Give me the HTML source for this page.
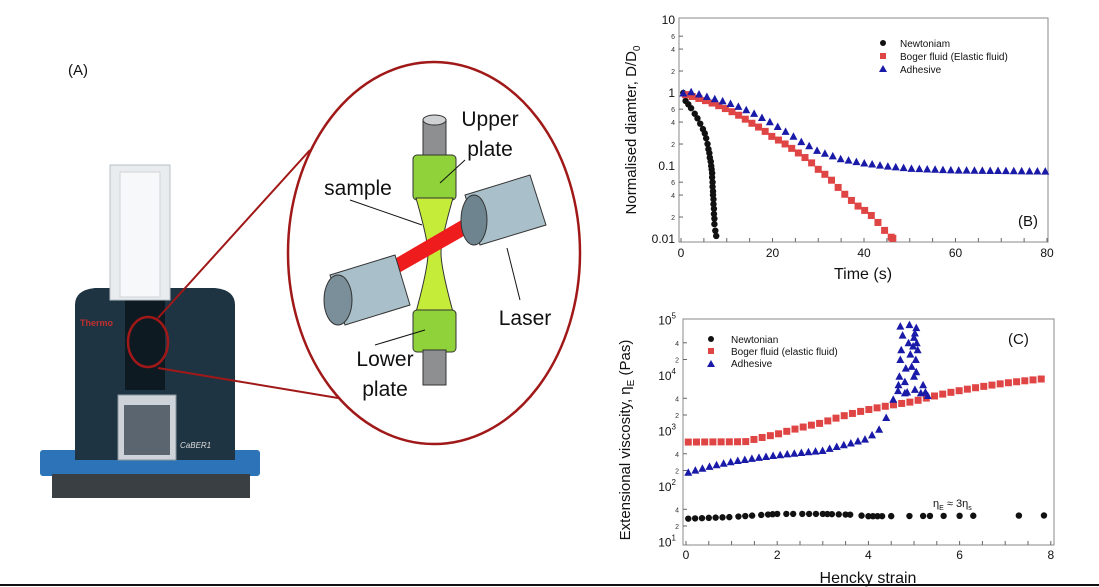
<!DOCTYPE html>
<html><head><meta charset="utf-8"><style>
html,body{margin:0;padding:0;background:#fff;}
svg{display:block;font-family:"Liberation Sans",sans-serif;}
</style></head><body>
<svg id="s" width="1099" height="587" viewBox="0 0 1099 587" xmlns="http://www.w3.org/2000/svg">
<rect width="1099" height="587" fill="#fff"/>
<!-- Panel A -->
<text x="68" y="75" font-size="15" fill="#111">(A)</text>
<!-- machine -->
<rect x="40" y="450" width="220" height="26" rx="3" fill="#2d73b8"/>
<rect x="52" y="474" width="198" height="24" fill="#3a3f44"/>
<path d="M75 460 L75 305 Q75 290 95 288 L215 288 Q235 290 235 305 L235 460 Z" fill="#1f3442"/>
<rect x="125" y="290" width="40" height="100" fill="#0d1a22"/>
<rect x="110" y="165" width="60" height="135" fill="#e8ecef" stroke="#b8c0c6"/>
<rect x="120" y="172" width="40" height="125" fill="#f6f8f9" stroke="#cfd5d9"/>
<rect x="118" y="395" width="58" height="65" fill="#cdd3d8" stroke="#8a949a"/>
<rect x="124" y="405" width="46" height="50" fill="#5a6570"/>
<text x="80" y="326" font-size="9" fill="#c03030" font-weight="bold">Thermo</text>
<text x="180" y="448" font-size="8" fill="#ddd" font-style="italic">CaBER1</text>
<ellipse cx="148" cy="342" rx="20" ry="25" fill="none" stroke="#a01818" stroke-width="2.5"/>
<line x1="158" y1="318" x2="310" y2="150" stroke="#a01818" stroke-width="2"/>
<line x1="158" y1="368" x2="350" y2="400" stroke="#a01818" stroke-width="2"/>
<ellipse cx="434" cy="253" rx="146" ry="191" fill="#fff" stroke="#a01818" stroke-width="2.5"/>
<!-- diagram -->
<rect x="423" y="120" width="23" height="45" fill="#8d8f91" stroke="#333"/>
<ellipse cx="434.5" cy="120" rx="11.5" ry="5" fill="#cfd1d3" stroke="#333"/>
<rect x="413" y="155" width="43" height="45" rx="4" fill="#8fd23a" stroke="#333"/>
<path d="M416 198 Q428 240 428 253 Q428 268 416 312 L453 312 Q441 268 441 253 Q441 240 453 198 Z" fill="#c6ec3a" stroke="#333"/>
<rect x="413" y="310" width="43" height="42" rx="4" fill="#8fd23a" stroke="#333"/>
<rect x="423" y="350" width="23" height="35" fill="#8d8f91" stroke="#333"/>
<path d="M470 215 L350 285 L360 295 L478 228 Z" fill="#ee1c1c"/>
<path d="M465 195 L530 175 L546 225 L480 245 Z" fill="#a9bfc9" stroke="#333"/>
<ellipse cx="474" cy="220" rx="13" ry="25" fill="#6e8590" stroke="#333"/>
<path d="M330 275 L395 255 L410 305 L345 325 Z" fill="#a9bfc9" stroke="#333"/>
<ellipse cx="338" cy="300" rx="14" ry="25" fill="#7a8f99" stroke="#333"/>
<line x1="465" y1="160" x2="440" y2="183" stroke="#111"/>
<line x1="350" y1="200" x2="422" y2="225" stroke="#111"/>
<line x1="520" y1="300" x2="507" y2="248" stroke="#111"/>
<line x1="375" y1="345" x2="425" y2="330" stroke="#111"/>
<g font-size="21" fill="#111" text-anchor="middle">
<text x="490" y="126">Upper</text><text x="490" y="156">plate</text>
<text x="358" y="195">sample</text><text x="525" y="325">Laser</text>
<text x="385" y="366">Lower</text><text x="385" y="396">plate</text>
</g>
<!-- Panel B -->
<rect x="679" y="18" width="369" height="224" fill="none" stroke="#888"/>
<g id="bt"></g>
<text transform="translate(636,130) rotate(-90)" font-size="15" text-anchor="middle" fill="#111">Normalised diamter, D/D<tspan font-size="10" dy="4">0</tspan></text>
<text x="863" y="279" font-size="16" text-anchor="middle" fill="#111">Time (s)</text>
<text x="1018" y="226" font-size="15" fill="#111">(B)</text>
<g font-size="10" fill="#111">
<circle cx="883" cy="43" r="3" fill="#111"/><text x="900" y="47">Newtoniam</text>
<rect x="880" y="53" width="6" height="6" fill="#e04545"/><text x="900" y="60">Boger fluid (Elastic fluid)</text>
<path d="M879 72 L887 72 L883 65 Z" fill="#1a1aa8"/><text x="900" y="73">Adhesive</text>
</g>
<!-- Panel C -->
<rect x="683" y="319" width="371" height="226" fill="none" stroke="#888"/>
<text transform="translate(630,440) rotate(-90)" font-size="15" text-anchor="middle" fill="#111">Extensional viscosity, η<tspan font-size="10" dy="4">E</tspan><tspan dy="-4"> (Pas)</tspan></text>
<text x="868" y="583" font-size="16" text-anchor="middle" fill="#111">Hencky strain</text>
<text x="1008" y="344" font-size="15" fill="#111">(C)</text>
<text x="933" y="507" font-size="11" fill="#111">η<tspan font-size="7" dy="3">E</tspan><tspan dy="-3"> ≈ 3η</tspan><tspan font-size="7" dy="3">s</tspan></text>
<g font-size="10" fill="#111">
<circle cx="711" cy="339" r="3" fill="#111"/><text x="731" y="343">Newtonian</text>
<rect x="708" y="348" width="6" height="6" fill="#e04545"/><text x="731" y="355">Boger fluid (elastic fluid)</text>
<path d="M707 367 L715 367 L711 360 Z" fill="#1a1aa8"/><text x="731" y="367">Adhesive</text>
</g>
<line x1="0" y1="585" x2="1099" y2="585" stroke="#111" stroke-width="2"/>
</svg>
<script>
const S=document.getElementById('s'),NS='http://www.w3.org/2000/svg';
function el(t,a,txt){const e=document.createElementNS(NS,t);for(const k in a)e.setAttribute(k,a[k]);if(txt!==undefined)e.textContent=txt;S.appendChild(e);return e;}
function circ(x,y){el('circle',{cx:x,cy:y,r:3.2,fill:'#111'});}
function sq(x,y){el('rect',{x:x-3.5,y:y-3.5,width:7,height:7,fill:'#e04545'});}
function tri(x,y){el('path',{d:`M${x-4} ${y+3.5}L${x+4} ${y+3.5}L${x} ${y-4}Z`,fill:'#1a1aa8'});}
function interp(pts,x){for(let i=0;i<pts.length-1;i++){if(x>=pts[i][0]&&x<=pts[i+1][0]){const t=(x-pts[i][0])/(pts[i+1][0]-pts[i][0]);return pts[i][1]+t*(pts[i+1][1]-pts[i][1]);}}return pts[pts.length-1][1];}
// B axes
const bx=t=>681+t*4.575, by=v=>239-(Math.log10(v)+2)*73;
for(let t=0;t<=80;t+=20){el('text',{x:bx(t),y:257,'font-size':12,'text-anchor':'middle',fill:'#111'},t);}
for(let t=0;t<=80;t+=5){el('line',{x1:bx(t),y1:242,x2:bx(t),y2:238,stroke:'#666'});}
[[10,'10'],[1,'1'],[0.1,'0.1'],[0.01,'0.01']].forEach(([v,l])=>el('text',{x:675,y:by(v)+4,'font-size':12,'text-anchor':'end',fill:'#111'},l));
[0.02,0.04,0.06,0.2,0.4,0.6,2,4,6].forEach(v=>{el('text',{x:675,y:by(v)+3,'font-size':7,'text-anchor':'end',fill:'#333'},String(v).replace(/^0\.0?/,'').replace(/0$/,'')||'');el('line',{x1:679,y1:by(v),x2:683,y2:by(v),stroke:'#666'});});
// B data
[[0.5,1],[1,0.78],[1.6,0.7],[2.2,0.62],[3,0.52],[3.6,0.45],[4.2,0.38],[4.8,0.32],[5.2,0.28],[5.5,0.24],[5.8,0.2],[6,0.17],[6.2,0.15],[6.3,0.13],[6.5,0.115],[6.6,0.1],[6.7,0.09],[6.8,0.08],[6.8,0.07],[6.9,0.06],[6.9,0.052],[7,0.045],[7,0.04],[7.1,0.035],[7.1,0.03],[7.2,0.026],[7.2,0.022],[7.3,0.019],[7.3,0.016],[7.5,0.013],[7.7,0.011]].forEach(p=>circ(bx(p[0]),by(p[1])));
const bog=[[1,0.95],[5,0.8],[10,0.6],[15,0.4],[20,0.25],[25,0.16],[30,0.09],[35,0.045],[38,0.03],[42,0.02],[44,0.014],[46,0.0105]];
for(let t=1;t<=46.5;t+=1.45)sq(bx(t),by(interp(bog,t)));
sq(bx(46.3),by(0.0102));
const adh=[[0.5,1],[2,1.05],[6,0.88],[10,0.75],[14,0.6],[18,0.45],[22,0.32],[26,0.22],[30,0.16],[35,0.125],[40,0.11],[45,0.1],[50,0.093],[60,0.088],[80,0.085]];
for(let t=0.5;t<=80;t+=1.72)tri(bx(t),by(interp(adh,t)));
// C axes
const cx=h=>686+h*45.6, cy=v=>542.7-(Math.log10(v)-1)*55.5;
for(let h=0;h<=8;h+=2){el('text',{x:cx(h),y:559,'font-size':12,'text-anchor':'middle',fill:'#111'},h);}
for(let h=0;h<=8;h+=0.5){el('line',{x1:cx(h),y1:545,x2:cx(h),y2:541,stroke:'#666'});}
for(let e=1;e<=5;e++){const t=el('text',{x:676,y:cy(Math.pow(10,e))+4,'font-size':12,'text-anchor':'end',fill:'#111'},'10');const ts=document.createElementNS(NS,'tspan');ts.setAttribute('font-size',8);ts.setAttribute('dy',-6);ts.textContent=e;t.appendChild(ts);
 if(e<5)[2,4].forEach(m=>{const v=m*Math.pow(10,e);el('text',{x:679,y:cy(v)+3,'font-size':7,'text-anchor':'end',fill:'#333'},m);el('line',{x1:683,y1:cy(v),x2:687,y2:cy(v),stroke:'#666'});});}
// C data
const nw=[[0,27],[1,29],[2,33],[3,33],[3.6,32],[4,30],[8,31]];
[0.05,0.2,0.35,0.5,0.65,0.8,0.95,1.15,1.3,1.45,1.65,1.8,1.9,2,2.2,2.35,2.55,2.7,2.85,3,3.1,3.2,3.35,3.5,3.6,3.85,4,4.1,4.2,4.3,4.5,4.9,5.2,5.35,5.65,6,6.3,7.3,7.85].forEach(h=>circ(cx(h),cy(interp(nw,h))));
const bg=[[0,650],[1.3,660],[2,900],[3,1450],[4,2500],[5,3500],[6,5500],[7,7500],[7.85,9000]];
for(let h=0.05;h<=7.9;h+=0.18)sq(cx(h),cy(interp(bg,h)));
const ad=[[0,180],[1,290],[2,380],[3,460],[3.6,620],[4,760],[4.3,1200],[4.45,2200],[4.6,4800]];
for(let h=0.05;h<=4.6;h+=0.155)tri(cx(h),cy(interp(ad,h)));
[[4.7,80000],[4.75,55000],[4.72,30000],[4.7,20000],[4.68,10000],[4.66,7000],[4.65,5500],[4.82,14000],[4.8,8000],[4.8,5000],[4.88,40000],[4.9,85000],[4.92,25000],[4.95,15000],[4.98,35000],[5.0,50000],[5.02,60000],[5.04,20000],[5.0,10000],[5.05,75000],[5.06,40000],[5.08,30000],[5.05,12000],[5.02,5800],[5.15,5000],[5.2,7000],[5.25,5200],[5.3,4500],[4.85,5200]].forEach(p=>tri(cx(p[0]),cy(p[1])));
</script>
</body></html>
